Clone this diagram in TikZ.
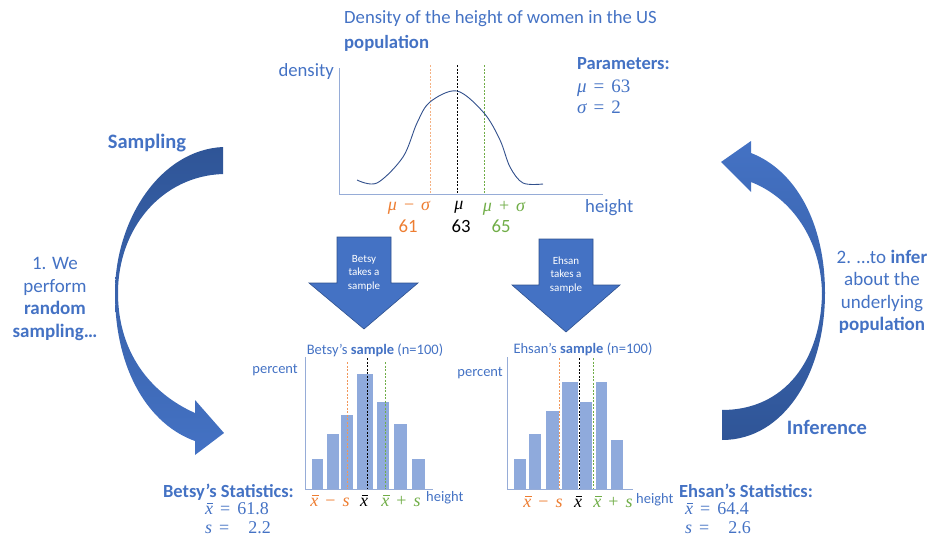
\documentclass[tikz,border=0pt]{standalone}
\usepackage{fontspec}
\setmainfont{Carlito}
\newfontfamily\mathserif{Liberation Serif}
\newcommand{\symvar}[1]{{\mathserif\itshape #1}}
\newcommand{\symop}[1]{{\mathserif\hspace{7pt}#1\hspace{7pt}}}
\newcommand{\xbarsym}{{\mathserif\itshape\rlap{\hspace{0.1em}\rule[0.6em]{0.36em}{0.045em}}x}}
\definecolor{textblue}{RGB}{68,114,196}
\definecolor{darkblue}{RGB}{47,85,151}
\definecolor{edgeblue}{RGB}{47,82,143}
\definecolor{barblue}{RGB}{143,170,220}
\definecolor{axisblue}{RGB}{150,172,215}
\definecolor{curveblue}{RGB}{50,80,140}
\definecolor{sigorange}{RGB}{237,125,49}
\definecolor{peach}{RGB}{244,177,131}
\definecolor{siggreen}{RGB}{112,173,71}

\begin{document}
\begin{tikzpicture}[x=1pt, y=-1pt,
    lbl/.style={text=textblue, inner sep=0pt, font=\fontsize{18.7}{23}\selectfont},
    boldlbl/.style={text=textblue, inner sep=0pt, font=\fontsize{18.5}{22}\selectfont\bfseries},
    mathlbl/.style={inner sep=0pt, font=\fontsize{18}{20}\selectfont},
    smalllbl/.style={text=textblue, inner sep=0pt, font=\fontsize{14.5}{17}\selectfont},
    statlbl/.style={text=textblue, inner sep=0pt, anchor=west, font=\fontsize{18}{20}\selectfont},
    arrowtxt/.style={text=white, inner sep=0pt, align=center, font=\fontsize{11}{13.5}\selectfont},
    downarrow/.style={fill=textblue, draw=edgeblue, line width=0.6pt},
    axisline/.style={draw=axisblue, line width=0.9pt},
    meanline/.style={black, dashed, line width=0.5pt, dash pattern=on 2pt off 1.5pt},
    lowline/.style={peach, dashed, line width=0.7pt, dash pattern=on 2pt off 1.5pt},
    highline/.style={siggreen, dashed, line width=0.6pt, dash pattern=on 2pt off 1.5pt}]
\useasboundingbox (0,0) rectangle (930,538);

% population
\node[lbl, anchor=west] (title) at (344,19) {Density of the height of women in the US};
\node[lbl, anchor=west] (titlepop) at (344,43) {\bfseries population};
\node[lbl, anchor=east] (density) at (334,72) {density};
\draw[axisline] (339,68) -- (339,194) -- (603,194);
\draw[lowline] (430,65) -- (430,194);
\draw[meanline] (457,65) -- (457,194);
\draw[highline] (484,65) -- (484,194);
\draw[curveblue, line width=0.9pt] plot[smooth, tension=0.55] coordinates {(357,180) (377,183) (403,157) (417,123) (430,102) (457,91) (484,113) (500,140) (510,167) (523,183) (543,184)};
\node[mathlbl, text=sigorange] (musub) at (409,208) {\symvar{μ}\symop{−}\symvar{σ}};
\node[mathlbl, text=black] (mu) at (459,207) {\symvar{μ}};
\node[mathlbl, text=siggreen] (muadd) at (504,208) {\symvar{μ}\symop{+}\symvar{σ}};
\node[lbl, text=sigorange] (vlow) at (408,226) {61};
\node[lbl, text=black] (vmid) at (461,226) {63};
\node[lbl, text=siggreen] (vhigh) at (501,226) {65};
\node[lbl, anchor=west] (height) at (585,208) {height};
\node[boldlbl, anchor=west] (params) at (577,64) {Parameters:};
\node[statlbl, font=\fontsize{19}{20}\selectfont] (pmu) at (577,88) {\symvar{μ}\symop{=}{\mathserif 63}};
\node[statlbl, font=\fontsize{19}{20}\selectfont] (psigma) at (577,107) {\symvar{σ}\symop{=}{\mathserif 2}};

% sampling arrow
\shade[top color=darkblue, bottom color=textblue]
  (223,147) .. controls (160,150) and (115,220) .. (115,293)
  .. controls (115,372) and (150,425) .. (195,441)
  -- (195,455) -- (224,433) -- (195,400) -- (195,413)
  .. controls (150,393) and (118,352) .. (118,293)
  .. controls (118,228) and (162,176) .. (223,174) -- cycle;
\node[boldlbl, font=\fontsize{20.5}{24}\selectfont\bfseries] (sampling) at (147,143) {Sampling};
\node[lbl, align=center, font=\fontsize{19}{22.7}\selectfont] (step1) at (55,299) {1. We\\perform\\\textbf{random}\\\textbf{sampling…}};

% inference arrow
\shade[top color=textblue, bottom color=darkblue]
  (722,440) .. controls (785,440) and (825,372) .. (825,293)
  .. controls (825,222) and (795,170) .. (751,153)
  -- (751,141) -- (721,162) -- (751,192) -- (751,182)
  .. controls (792,198) and (821,240) .. (822,293)
  .. controls (821,360) and (785,410) .. (722,410) -- cycle;
\node[boldlbl, font=\fontsize{20.5}{24}\selectfont\bfseries] (inference) at (827,427) {Inference};
\node[lbl, align=center, font=\fontsize{19}{22.5}\selectfont] (step2) at (882,292) {2. …to \textbf{infer}\\about the\\underlying\\\textbf{population}};

% sample arrows
\draw[downarrow] (337,237) -- (391,237) -- (391,283) -- (418,283) -- (364,329) -- (309,283) -- (337,283) -- cycle;
\node[arrowtxt] (betsytakes) at (364,273) {Betsy\\takes a\\sample};
\draw[downarrow] (539,239) -- (593,239) -- (593,285) -- (620,285) -- (566,332) -- (512,285) -- (539,285) -- cycle;
\node[arrowtxt] (ehsantakes) at (566,275) {Ehsan\\takes a\\sample};

% Betsy's sample
\node[smalllbl] (betsytitle) at (375,350) {Betsy’s \textbf{sample} (n=100)};
\node[smalllbl, anchor=east] (betsypct) at (298,370) {percent};
\foreach \xa/\xb/\ytop in {312/323/459, 327/339/434, 341/353/415, 357/373/374, 377/389/402, 394/407/424, 412/425/459}
  \fill[barblue] (\xa,489) rectangle (\xb,\ytop);
\draw[lowline, sigorange!80] (347,362) -- (347,489);
\draw[meanline] (367,358) -- (367,489);
\draw[highline] (385,362) -- (385,489);
\draw[axisline] (305,357) -- (305,489) -- (433,489);
\node[mathlbl, text=sigorange] (bsub) at (330,501) {\xbarsym\symop{−}\symvar{s}};
\node[mathlbl, text=black] (bmean) at (364,501) {\xbarsym};
\node[mathlbl, text=siggreen] (badd) at (401,501) {\xbarsym\symop{+}\symvar{s}};
\node[smalllbl, anchor=west] (bheight) at (426,498) {height};
\node[boldlbl, anchor=east] (betsystat) at (294,492) {Betsy’s Statistics:};
\node[statlbl] (betsymean) at (205,509) {\xbarsym\symop{=}{\mathserif 61.8}};
\node[statlbl] (betsysd) at (205,528) {\symvar{s}\symop{=}{\mathserif\hphantom{6}\,2.2}};

% Ehsan's sample
\node[smalllbl] (ehsantitle) at (583,349) {Ehsan’s \textbf{sample} (n=100)};
\node[smalllbl, anchor=east] (ehsanpct) at (503,373) {percent};
\foreach \xa/\xb/\ytop in {514/526/459, 529/541/434, 546/559/411, 562/578/382, 580/592/402, 596/607/382, 611/623/440}
  \fill[barblue] (\xa,489) rectangle (\xb,\ytop);
\draw[lowline, sigorange!80] (559,358) -- (559,489);
\draw[meanline] (579,358) -- (579,489);
\draw[highline] (593,358) -- (593,489);
\draw[axisline] (507,357) -- (507,489) -- (633,489);
\node[mathlbl, text=sigorange] (esub) at (543,502) {\xbarsym\symop{−}\symvar{s}};
\node[mathlbl, text=black] (emean) at (578,502) {\xbarsym};
\node[mathlbl, text=siggreen] (eadd) at (613,502) {\xbarsym\symop{+}\symvar{s}};
\node[smalllbl, anchor=west] (eheight) at (636,500) {height};
\node[boldlbl, anchor=west] (ehsanstat) at (679,491) {Ehsan’s Statistics:};
\node[statlbl] (ehsanmean) at (685,509) {\xbarsym\symop{=}{\mathserif 64.4}};
\node[statlbl] (ehsansd) at (685,528) {\symvar{s}\symop{=}{\mathserif\hphantom{6}\,2.6}};
\end{tikzpicture}
\end{document}
